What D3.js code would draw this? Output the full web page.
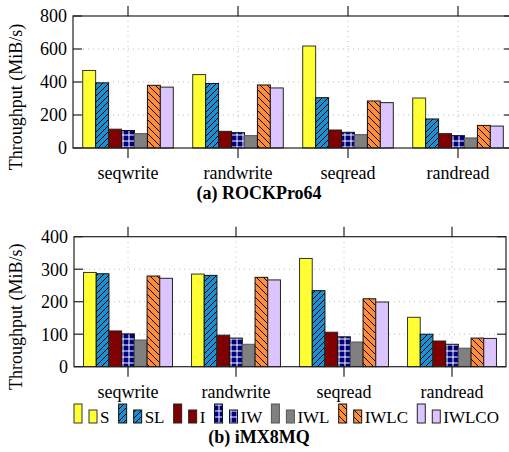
<!DOCTYPE html>
<html>
<head>
<meta charset="utf-8">
<script src="https://cdn.jsdelivr.net/npm/d3@7"></script>
<style>
  body { margin: 0; background: #fff; }
  svg { display: block; font-family: "Liberation Serif", "DejaVu Serif", serif; }
</style>
</head>
<body>
<div id="chart"></div>
<script>
// data
const categories = ["seqwrite", "randwrite", "seqread", "randread"];
const seriesNames = ["S", "SL", "I", "IW", "IWL", "IWLC", "IWLCO"];

// ROCKPro64, one row per category, one column per series
const rockValues = [
  [470, 395, 114, 106, 87, 380, 369],
  [445, 391, 101, 93, 75, 382, 364],
  [618, 305, 109, 95, 81, 285, 275],
  [303, 176, 87, 75, 61, 137, 133]
];
// iMX8MQ
const imxValues = [
  [290, 286, 110, 101, 82, 279, 272],
  [285, 281, 97, 88, 69, 275, 267],
  [333, 234, 106, 92, 76, 209, 199],
  [152, 100, 79, 69, 57, 88, 87]
];
const rockTicks = [0, 200, 400, 600, 800];
const imxTicks = [0, 100, 200, 300, 400];

const svgWidth = 509, svgHeight = 452;

const svg = d3.select("#chart").append("svg")
    .attr("width", svgWidth)
    .attr("height", svgHeight);

// fills for each series (patterns defined below)
const fills = ["#ffff33", "url(#hatchSL)", "#800000", "url(#gridIW)", "#808080", "url(#hatchIWLC)", "#dcc4ff"];
const strokes = ["#333", "#111", "#222", "#111", "#555", "#111", "#222"];

const defs = svg.append("defs");

// "/" hatch on blue
const pSL = defs.append("pattern").attr("id", "hatchSL")
    .attr("patternUnits", "userSpaceOnUse").attr("width", 6).attr("height", 6);
pSL.append("rect").attr("width", 6).attr("height", 6).attr("fill", "#1e8fd1");
pSL.append("path").attr("d", "M-1,1 L1,-1 M0,6 L6,0 M5,7 L7,5")
    .attr("stroke", "#000").attr("stroke-width", 1);

// "\" hatch on orange
const pIWLC = defs.append("pattern").attr("id", "hatchIWLC")
    .attr("patternUnits", "userSpaceOnUse").attr("width", 7).attr("height", 7);
pIWLC.append("rect").attr("width", 7).attr("height", 7).attr("fill", "#ff8c3a");
pIWLC.append("path").attr("d", "M-1,6 L1,8 M0,0 L7,7 M6,-1 L8,1")
    .attr("stroke", "#000").attr("stroke-width", 1);

// white grid on navy
const pIW = defs.append("pattern").attr("id", "gridIW")
    .attr("patternUnits", "userSpaceOnUse").attr("width", 6).attr("height", 6);
pIW.append("rect").attr("width", 6).attr("height", 6).attr("fill", "#000080");
pIW.append("path").attr("d", "M3,0 L3,6 M0,3 L6,3")
    .attr("stroke", "#fff").attr("stroke-width", 1);

function drawPanel(cfg) {
  const g = svg.append("g");

  const x = d3.scaleLinear().domain([-0.5, 3.5]).range([cfg.left, cfg.right]);
  const y = d3.scaleLinear().domain([0, d3.max(cfg.ticks)]).range([cfg.bottom, cfg.top]);
  const step = x(1) - x(0);
  const barW = step / 8.5;

  // dotted grid
  g.selectAll(".hgrid").data(cfg.ticks.slice(1, -1)).join("line")
      .attr("x1", cfg.left).attr("x2", cfg.right)
      .attr("y1", d => y(d)).attr("y2", d => y(d))
      .attr("stroke", "#bbb").attr("stroke-dasharray", "1,4");
  g.selectAll(".vgrid").data(categories).join("line")
      .attr("x1", (d, i) => x(i)).attr("x2", (d, i) => x(i))
      .attr("y1", cfg.top).attr("y2", cfg.bottom)
      .attr("stroke", "#bbb").attr("stroke-dasharray", "1,4");

  // bars
  cfg.values.forEach((row, i) => {
    g.selectAll(null).data(row).join("rect")
        .attr("x", (d, j) => x(i) + (j - 3.5) * barW)
        .attr("y", d => y(d))
        .attr("width", barW)
        .attr("height", d => y(0) - y(d))
        .attr("fill", (d, j) => fills[j])
        .attr("stroke", (d, j) => strokes[j])
        .attr("stroke-width", 1);
  });

  // frame
  g.append("rect")
      .attr("x", cfg.left).attr("y", cfg.top)
      .attr("width", cfg.right - cfg.left).attr("height", cfg.bottom - cfg.top)
      .attr("fill", "none").attr("stroke", "#222").attr("stroke-width", 1.2);

  // y ticks, inside on both sides
  g.selectAll(".ytl").data(cfg.ticks).join("line")
      .attr("x1", cfg.left).attr("x2", cfg.left + 9)
      .attr("y1", d => y(d)).attr("y2", d => y(d))
      .attr("stroke", "#222").attr("stroke-width", 1.2);
  g.selectAll(".ytr").data(cfg.ticks).join("line")
      .attr("x1", cfg.right - 9).attr("x2", cfg.right)
      .attr("y1", d => y(d)).attr("y2", d => y(d))
      .attr("stroke", "#222").attr("stroke-width", 1.2);
  g.selectAll(".ylab").data(cfg.ticks).join("text")
      .attr("x", cfg.left - 6).attr("y", d => y(d))
      .attr("dy", "0.35em")
      .attr("text-anchor", "end")
      .attr("font-size", 18)
      .text(d => d);

  // x ticks, outward top and bottom
  g.selectAll(".xtt").data(categories).join("line")
      .attr("x1", (d, i) => x(i)).attr("x2", (d, i) => x(i))
      .attr("y1", cfg.top - 10).attr("y2", cfg.top)
      .attr("stroke", "#222").attr("stroke-width", 1.2);
  g.selectAll(".xtb").data(categories).join("line")
      .attr("x1", (d, i) => x(i)).attr("x2", (d, i) => x(i))
      .attr("y1", cfg.bottom).attr("y2", cfg.bottom + 10)
      .attr("stroke", "#222").attr("stroke-width", 1.2);
  g.selectAll(".xlab").data(categories).join("text")
      .attr("x", (d, i) => x(i)).attr("y", cfg.bottom + 31)
      .attr("text-anchor", "middle")
      .attr("font-size", 18)
      .text(d => d);

  // axis title
  const cy = (cfg.top + cfg.bottom) / 2 + 15;
  g.append("text")
      .attr("transform", `translate(22,${cy}) rotate(-90)`)
      .attr("text-anchor", "middle")
      .attr("font-size", 18)
      .text("Throughput (MiB/s)");

  // caption
  g.append("text")
      .attr("x", 259).attr("y", cfg.captionY)
      .attr("text-anchor", "middle")
      .attr("font-size", 18)
      .attr("font-weight", "bold")
      .text(cfg.caption);
}

drawPanel({ values: rockValues, ticks: rockTicks, left: 73, right: 513, top: 16, bottom: 148, captionY: 199, caption: "(a) ROCKPro64" });
drawPanel({ values: imxValues, ticks: imxTicks, left: 74, right: 506, top: 236.7, bottom: 366.7, captionY: 443, caption: "(b) iMX8MQ" });

// legend: a tall and a short swatch before each name, spread over 74..499
const legendBottom = 423, legendLeft = 74, legendRight = 499;
const legend = svg.append("g");
const labels = seriesNames.map(name => legend.append("text")
    .attr("y", legendBottom)
    .attr("font-size", 17)
    .text(name));
const textW = labels.map(t => t.node().getComputedTextLength());
const used = d3.sum(textW) + 26 * seriesNames.length;
const gap = (legendRight - legendLeft - used) / (seriesNames.length - 1);
let lx = legendLeft;
seriesNames.forEach((name, j) => {
  legend.append("rect")
      .attr("x", lx).attr("y", legendBottom - 19).attr("width", 8).attr("height", 19)
      .attr("fill", fills[j]).attr("stroke", strokes[j]);
  legend.append("rect")
      .attr("x", lx + 15).attr("y", legendBottom - 13).attr("width", 8).attr("height", 13)
      .attr("fill", fills[j]).attr("stroke", strokes[j]);
  labels[j].attr("x", lx + 26);
  lx += 26 + textW[j] + gap;
});
</script>
</body>
</html>
